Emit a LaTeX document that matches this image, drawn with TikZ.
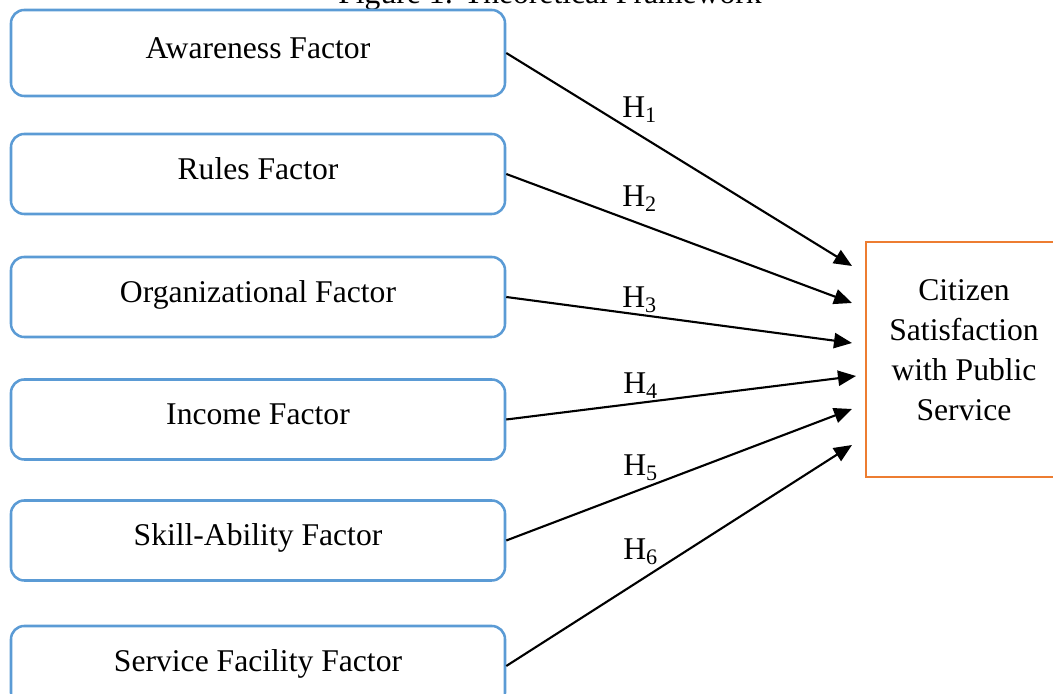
\documentclass[tikz,border=0pt]{standalone}
\usepackage{fontspec}
\setmainfont{Liberation Serif}
\usetikzlibrary{arrows.meta}
\definecolor{boxblue}{RGB}{91,155,213}
\definecolor{boxorange}{RGB}{237,125,49}
\begin{document}
\begin{tikzpicture}[font=\fontsize{22.5}{28.45}\selectfont]\tikzset{factor/.style = {shape=rectangle, draw=boxblue, line width=1.8pt, rounded corners=0.33cm, minimum width=12.35cm, minimum height=2cm, text height=0.52cm, text depth=0.25cm},
	outcome/.style = {shape=rectangle, draw=boxorange, line width=1.8pt, minimum width=4.9cm, minimum height=5.875cm, align=center, text depth=0.48cm},
	hyp/.style = {line width=1.5pt, -{Triangle[length=0.45cm, width=0.38cm]}},
	hlabel/.style = {anchor=base west, inner sep=0pt}}

		\useasboundingbox (0,0) rectangle (26.325,17.35);

		\node[anchor=base] (title) at (13.75,17.25) {Figure 1: Theoretical Framework};

		\node[factor, minimum height=2.15cm] (F_1) at (6.45,16.025) {Awareness Factor};
		\node[factor] (F_2) at (6.45,13.0) {Rules Factor};
		\node[factor] (F_3) at (6.45,9.925) {Organizational Factor};
		\node[factor] (F_4) at (6.45,6.8625) {Income Factor};
		\node[factor] (F_5) at (6.45,3.8375) {Skill-Ability Factor};
		\node[factor] (F_6) at (6.45,0.7) {Service Facility Factor};

		\node[outcome] (S) at (24.1,8.3625) {Citizen\\Satisfaction\\with Public\\Service};

		\coordinate (T_1) at (21.3,10.7);
		\coordinate (T_2) at (21.3,9.775);
		\coordinate (T_3) at (21.3,8.775);
		\coordinate (T_4) at (21.4,7.95);
		\coordinate (T_5) at (21.3,7.125);
		\coordinate (T_6) at (21.3,6.225);

		\draw[hyp] (F_1.east) -- (T_1);
		\draw[hyp] (F_2.east) -- (T_2);
		\draw[hyp] (F_3.east) -- (T_3);
		\draw[hyp] (F_4.east) -- (T_4);
		\draw[hyp] (F_5.east) -- (T_5);
		\draw[hyp] (F_6.east) -- (T_6);

		\node[hlabel] (H_1) at (15.55,14.4) {H\textsubscript{1}};
		\node[hlabel] (H_2) at (15.55,12.175) {H\textsubscript{2}};
		\node[hlabel] (H_3) at (15.55,9.65) {H\textsubscript{3}};
		\node[hlabel] (H_4) at (15.575,7.5) {H\textsubscript{4}};
		\node[hlabel] (H_5) at (15.575,5.45) {H\textsubscript{5}};
		\node[hlabel] (H_6) at (15.575,3.35) {H\textsubscript{6}};
	\end{tikzpicture}
\end{document}
